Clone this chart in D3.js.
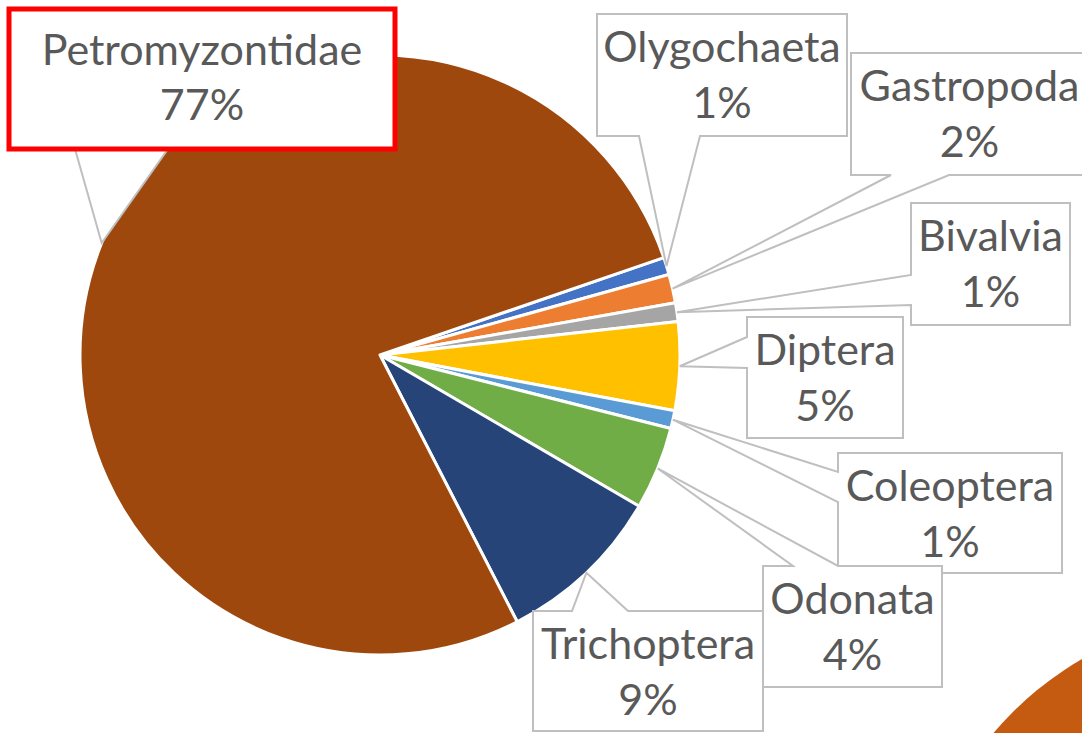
<!DOCTYPE html>
<html>
<head>
<meta charset="utf-8">
<script src="https://cdn.jsdelivr.net/npm/d3@7"></script>
<style>
  html, body { margin: 0; padding: 0; background: #fff; }
  text { font-family: Lato, "Open Sans", sans-serif; fill: #595959; }
</style>
</head>
<body>
<svg id="chart" width="1082" height="733"></svg>
<script>
// slice order follows the pie clockwise from the Olygochaeta wedge
var categories = ["Olygochaeta", "Gastropoda", "Bivalvia", "Diptera", "Coleoptera", "Odonata", "Trichoptera", "Petromyzontidae"]
var shares = [0.94, 1.54, 1.0, 4.76, 0.96, 4.47, 9.03, 77.3]
var shareLabels = ["1%", "2%", "1%", "5%", "1%", "4%", "9%", "77%"]
var colors = ["#4472C4", "#ED7D31", "#A5A5A5", "#FFC000", "#5B9BD5", "#70AD47", "#264478", "#9E480E"]

// callout boxes: [x0, y0, x1, y1], side the pointer leaves from, pointer base
var boxes = [
  [597, 14, 847, 136], [851, 53, 1088, 175], [911, 203, 1070, 325], [747, 317, 903, 438],
  [838, 453, 1062, 573], [763, 566, 942, 687], [533, 611, 763, 731], [9, 9, 395, 149]
]
var sides = ["bottom", "bottom", "left", "left", "left", "top", "top", "bottom"]
var bases = [[639, 700], [891, 949], [275, 305], [337, 368], [472, 502], [793, 838], [572, 628], [75, 168]]

var cx = 380, cy = 355, radius = 300
var startDeg = 71.06

var svg = d3.select("#chart")

// fragment of the neighbouring chart, cut by the picture's corner
svg.append("circle").attr("cx", 1250).attr("cy", 950).attr("r", 336).attr("fill", "#C55A11")

var pie = d3.pie().sort(null).value(function(d) { return d })
  .startAngle(startDeg * Math.PI / 180)
  .endAngle(startDeg * Math.PI / 180 + 2 * Math.PI)
var arcs = pie(shares)
var arc = d3.arc().innerRadius(0).outerRadius(radius)
var rim = d3.arc().innerRadius(radius).outerRadius(radius)

var g = svg.append("g").attr("transform", "translate(" + cx + "," + cy + ")")
g.selectAll("path").data(arcs).enter().append("path")
  .attr("d", arc)
  .attr("fill", function(d, i) { return colors[i] })
  .attr("stroke", "#fff")
  .attr("stroke-width", 3)
  .attr("stroke-linejoin", "round")

function calloutPath(i) {
  var b = boxes[i], s = sides[i], p = bases[i]
  var a = arcs[i]
  var mid = (a.startAngle + a.endAngle) / 2
  var tx = cx + radius * Math.sin(mid), ty = cy - radius * Math.cos(mid)
  var pts
  if (s == "bottom")
    pts = [[b[0], b[1]], [b[2], b[1]], [b[2], b[3]], [p[1], b[3]], [tx, ty], [p[0], b[3]], [b[0], b[3]]]
  else if (s == "left")
    pts = [[b[0], b[1]], [b[2], b[1]], [b[2], b[3]], [b[0], b[3]], [b[0], p[1]], [tx, ty], [b[0], p[0]]]
  else
    pts = [[b[0], b[1]], [p[0], b[1]], [tx, ty], [p[1], b[1]], [b[2], b[1]], [b[2], b[3]], [b[0], b[3]]]
  return "M" + pts.map(function(q) { return q.join(",") }).join("L") + "Z"
}

var labels = svg.selectAll("g.label").data(categories).enter().append("g").attr("class", "label")
labels.append("path")
  .attr("d", function(d, i) { return calloutPath(i) })
  .attr("fill", "#fff")
  .attr("stroke", "#BFBFBF")
  .attr("stroke-width", 2)

// highlighted label
var pb = boxes[7]
svg.append("rect")
  .attr("x", pb[0]).attr("y", pb[1])
  .attr("width", pb[2] - pb[0]).attr("height", pb[3] - pb[1])
  .attr("fill", "none").attr("stroke", "#FF0000").attr("stroke-width", 5)

labels.append("text")
  .attr("x", function(d, i) { return (boxes[i][0] + boxes[i][2]) / 2 })
  .attr("y", function(d, i) { return i == 7 ? 65 : boxes[i][1] + 48 })
  .attr("text-anchor", "middle")
  .attr("font-size", 43)
  .text(function(d) { return d })
labels.append("text")
  .attr("x", function(d, i) { return (boxes[i][0] + boxes[i][2]) / 2 })
  .attr("y", function(d, i) { return i == 7 ? 120 : boxes[i][1] + 104 })
  .attr("text-anchor", "middle")
  .attr("font-size", 43)
  .text(function(d, i) { return shareLabels[i] })
</script>
</body>
</html>
